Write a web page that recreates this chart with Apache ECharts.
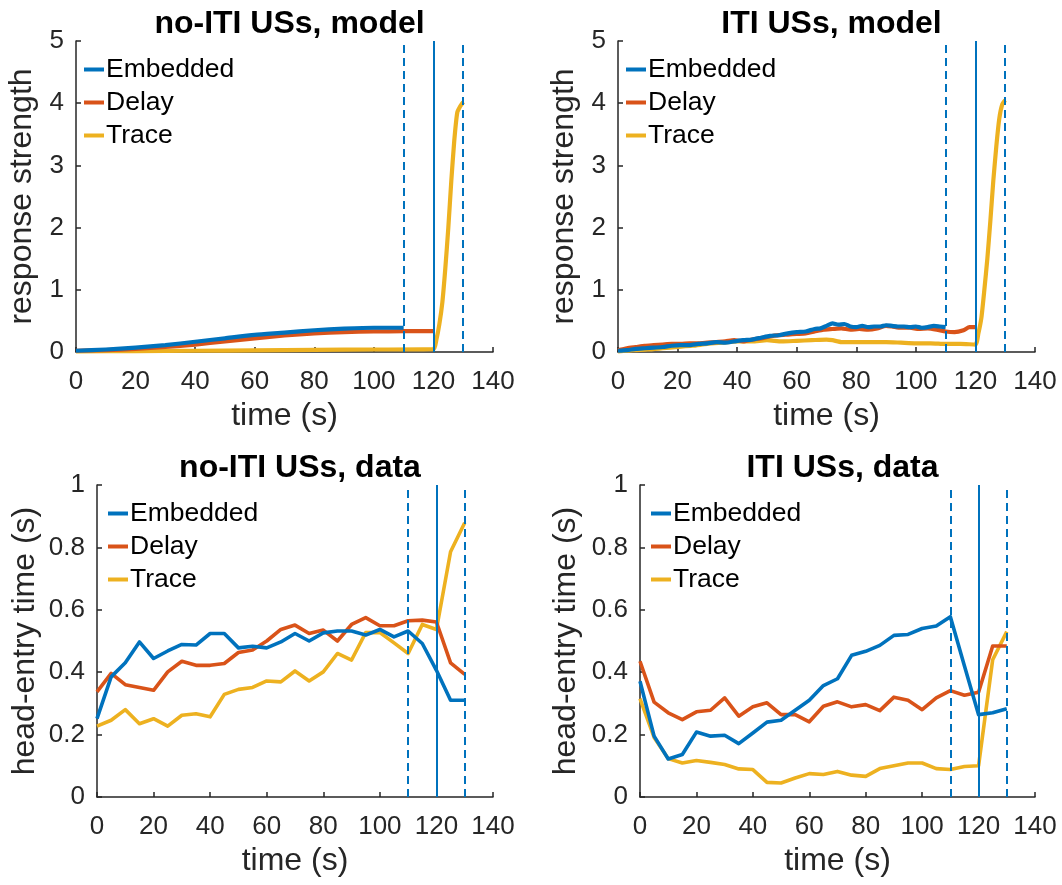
<!DOCTYPE html>
<html>
<head>
<meta charset="utf-8">
<script src="https://cdn.jsdelivr.net/npm/echarts@6/dist/echarts.min.js"></script>
<style>
  html, body { margin: 0; padding: 0; background: #fff; }
  #chart { width: 1062px; height: 885px; }
</style>
</head>
<body>
<div id="chart"></div>
<script>
// ---- Model: no-ITI USs (response strength vs time) ----
const mNoItiEmbT = [0, 10, 20, 30, 40, 50, 60, 70, 80, 90, 100, 110];
const mNoItiEmbV = [0.02, 0.04, 0.07, 0.11, 0.165, 0.22, 0.275, 0.31, 0.35, 0.375, 0.39, 0.39];
const mNoItiDelT = [0, 10, 20, 30, 40, 50, 60, 70, 80, 90, 100, 110, 120];
const mNoItiDelV = [0.02, 0.03, 0.05, 0.08, 0.12, 0.17, 0.22, 0.265, 0.3, 0.32, 0.33, 0.335, 0.335];
const mNoItiTrT = [0, 20, 40, 60, 80, 100, 120, 121, 122, 123, 124, 125, 126, 127, 128, 129, 130];
const mNoItiTrV = [0.01, 0.015, 0.02, 0.025, 0.035, 0.04, 0.045, 0.2, 0.45, 0.8, 1.35, 2.0, 2.75, 3.4, 3.85, 3.95, 4.02];

// ---- Model: ITI USs ----
const mItiEmbT = [0, 3, 6, 9, 12, 15, 18, 21, 24, 27, 30, 33, 36, 39, 42, 45, 48, 51, 54, 57, 60, 63, 66, 68, 70, 72, 74, 76, 78, 80, 82, 84, 86, 88, 90, 92, 94, 96, 98, 100, 102, 104, 106, 108, 110];
const mItiEmbV = [0.02, 0.03, 0.05, 0.06, 0.07, 0.08, 0.1, 0.11, 0.11, 0.13, 0.14, 0.16, 0.15, 0.17, 0.19, 0.2, 0.23, 0.26, 0.27, 0.3, 0.32, 0.33, 0.37, 0.38, 0.42, 0.46, 0.44, 0.45, 0.41, 0.4, 0.42, 0.4, 0.41, 0.41, 0.43, 0.42, 0.41, 0.41, 0.4, 0.41, 0.39, 0.4, 0.42, 0.41, 0.4];
const mItiDelT = [0, 3, 6, 9, 12, 15, 18, 21, 24, 27, 30, 33, 36, 39, 42, 45, 48, 51, 54, 57, 60, 63, 66, 69, 72, 75, 78, 81, 84, 87, 90, 92, 95, 98, 101, 104, 107, 110, 113, 116, 118, 120];
const mItiDelV = [0.03, 0.06, 0.08, 0.1, 0.11, 0.12, 0.13, 0.13, 0.14, 0.14, 0.15, 0.16, 0.17, 0.19, 0.17, 0.2, 0.22, 0.25, 0.27, 0.28, 0.29, 0.3, 0.33, 0.36, 0.37, 0.38, 0.36, 0.37, 0.36, 0.38, 0.42, 0.41, 0.39, 0.39, 0.37, 0.38, 0.36, 0.33, 0.32, 0.35, 0.4, 0.4];
const mItiTrT = [0, 5, 10, 15, 20, 25, 30, 35, 40, 45, 50, 55, 60, 65, 70, 72, 75, 80, 85, 90, 95, 100, 105, 110, 115, 120, 121, 122, 123, 124, 125, 126, 127, 128, 129, 130];
const mItiTrV = [0.01, 0.03, 0.04, 0.06, 0.08, 0.1, 0.13, 0.15, 0.17, 0.17, 0.19, 0.17, 0.18, 0.19, 0.2, 0.19, 0.16, 0.16, 0.16, 0.16, 0.15, 0.14, 0.14, 0.13, 0.13, 0.12, 0.3, 0.55, 1.0, 1.5, 2.1, 2.75, 3.3, 3.75, 3.98, 4.05];

// ---- Data: head-entry time, sampled every 5 s ----
const dataTimes = [0, 5, 10, 15, 20, 25, 30, 35, 40, 45, 50, 55, 60, 65, 70, 75, 80, 85, 90, 95, 100, 105, 110, 115, 120, 125, 130];
const dNoItiEmb = [0.251, 0.385, 0.43, 0.497, 0.444, 0.468, 0.489, 0.487, 0.524, 0.524, 0.478, 0.483, 0.478, 0.497, 0.524, 0.5, 0.526, 0.532, 0.532, 0.519, 0.537, 0.513, 0.532, 0.492, 0.406, 0.31, 0.31];
const dNoItiDel = [0.337, 0.396, 0.36, 0.351, 0.342, 0.401, 0.435, 0.422, 0.422, 0.428, 0.463, 0.471, 0.5, 0.537, 0.551, 0.524, 0.535, 0.5, 0.553, 0.575, 0.549, 0.549, 0.565, 0.567, 0.561, 0.43, 0.393];
const dNoItiTr = [0.227, 0.246, 0.28, 0.235, 0.251, 0.227, 0.262, 0.267, 0.257, 0.329, 0.345, 0.351, 0.372, 0.369, 0.404, 0.372, 0.401, 0.46, 0.439, 0.527, 0.527, 0.494, 0.46, 0.553, 0.537, 0.786, 0.879];
const dItiEmb = [0.371, 0.195, 0.122, 0.136, 0.208, 0.195, 0.198, 0.171, 0.205, 0.24, 0.246, 0.278, 0.31, 0.357, 0.379, 0.454, 0.467, 0.486, 0.518, 0.521, 0.54, 0.548, 0.578, 0.42, 0.264, 0.27, 0.283];
const dItiDel = [0.435, 0.304, 0.27, 0.248, 0.273, 0.278, 0.318, 0.259, 0.289, 0.302, 0.264, 0.264, 0.241, 0.291, 0.305, 0.289, 0.296, 0.277, 0.32, 0.31, 0.28, 0.318, 0.341, 0.326, 0.336, 0.484, 0.484];
const dItiTr = [0.315, 0.191, 0.123, 0.109, 0.117, 0.111, 0.104, 0.09, 0.088, 0.047, 0.045, 0.061, 0.075, 0.072, 0.082, 0.07, 0.066, 0.091, 0.1, 0.109, 0.109, 0.091, 0.088, 0.098, 0.1, 0.44, 0.53];

// CS / US event markers (s)
const dashedMarks = [110, 130];
const solidMarks = [120];

const seriesNames = ['Embedded', 'Delay', 'Trace'];
const colors = ['#0072BD', '#D95319', '#EDB120'];
const panelTitles = ['no-ITI USs, model', 'ITI USs, model', 'no-ITI USs, data', 'ITI USs, data'];
const yNames = ['response strength', 'response strength', 'head-entry time (s)', 'head-entry time (s)'];
const xTicks = [0, 20, 40, 60, 80, 100, 120, 140];

const pairs = (t, v) => t.map((x, i) => [x, v[i]]);

const panels = [
  { lines: [pairs(mNoItiEmbT, mNoItiEmbV), pairs(mNoItiDelT, mNoItiDelV), pairs(mNoItiTrT, mNoItiTrV)], yMax: 5, yInt: 1, lw: 4.2, fmt: v => String(v) },
  { lines: [pairs(mItiEmbT, mItiEmbV), pairs(mItiDelT, mItiDelV), pairs(mItiTrT, mItiTrV)], yMax: 5, yInt: 1, lw: 4.2, fmt: v => String(v) },
  { lines: [pairs(dataTimes, dNoItiEmb), pairs(dataTimes, dNoItiDel), pairs(dataTimes, dNoItiTr)], yMax: 1, yInt: 0.2, lw: 3.6, fmt: v => (v === 0 || v === 1) ? String(v) : v.toFixed(1) },
  { lines: [pairs(dataTimes, dItiEmb), pairs(dataTimes, dItiDel), pairs(dataTimes, dItiTr)], yMax: 1, yInt: 0.2, lw: 3.6, fmt: v => (v === 0 || v === 1) ? String(v) : v.toFixed(1) }
];

const grids = [
  { left: 76, top: 41, width: 417, height: 311 },
  { left: 618, top: 41, width: 417, height: 311 },
  { left: 97, top: 485, width: 396, height: 312 },
  { left: 640, top: 485, width: 395, height: 312 }
];
const yNameGaps = [38, 38, 56, 58];

const FONT = '"Liberation Sans", Arial, Helvetica, sans-serif';
const AX = '#262626';

const option = {
  animation: false,
  backgroundColor: '#fff',
  title: grids.map((g, i) => ({
    text: panelTitles[i],
    left: g.left + g.width / 2,
    top: g.top - 38,
    textAlign: 'center',
    textStyle: { fontFamily: FONT, fontWeight: 'bold', fontSize: 32, color: '#000' }
  })),
  legend: grids.map((g, i) => ({
    data: seriesNames,
    orient: 'vertical',
    left: g.left + (i < 2 ? 8 : 11),
    top: g.top + 15,
    icon: 'rect',
    itemWidth: 20,
    itemHeight: 4,
    itemGap: 6,
    padding: 0,
    selectedMode: false,
    textStyle: { fontFamily: FONT, fontSize: 26.5, color: '#000', padding: [0, 0, 0, -3] }
  })),
  grid: grids.map(g => ({ left: g.left, top: g.top, width: g.width, height: g.height, containLabel: false })),
  xAxis: grids.map((g, i) => ({
    type: 'value', gridIndex: i, min: 0, max: 140, interval: 20,
    name: 'time (s)', nameLocation: 'middle', nameGap: 48,
    nameTextStyle: { fontFamily: FONT, fontSize: 32, color: AX },
    axisLine: { show: true, lineStyle: { color: AX, width: 1.5 } },
    axisTick: { show: true, inside: true, length: 5, lineStyle: { color: AX, width: 1.5 } },
    axisLabel: { fontFamily: FONT, fontSize: 26, color: AX, margin: 17, formatter: v => xTicks.includes(v) ? String(v) : '' },
    splitLine: { show: false }
  })),
  yAxis: grids.map((g, i) => ({
    type: 'value', gridIndex: i, min: 0, max: panels[i].yMax, interval: panels[i].yInt,
    name: yNames[i], nameLocation: 'middle', nameGap: yNameGaps[i], nameRotate: 90,
    nameTextStyle: { fontFamily: FONT, fontSize: 32, color: AX },
    axisLine: { show: true, lineStyle: { color: AX, width: 1.5 } },
    axisTick: { show: true, inside: true, length: 5, lineStyle: { color: AX, width: 1.5 } },
    axisLabel: { fontFamily: FONT, fontSize: 26, color: AX, margin: 12, formatter: panels[i].fmt },
    splitLine: { show: false }
  })),
  series: []
};

panels.forEach((p, gi) => {
  p.lines.forEach((pts, si) => {
    const s = {
      name: seriesNames[si],
      type: 'line',
      xAxisIndex: gi,
      yAxisIndex: gi,
      data: pts,
      showSymbol: false,
      smooth: gi < 2 ? 0.2 : false,
      z: 5 - si,
      lineStyle: { color: colors[si], width: p.lw, join: 'round' },
      itemStyle: { color: colors[si] }
    };
    if (si === 0) {
      s.markLine = {
        silent: true,
        symbol: ['none', 'none'],
        label: { show: false },
        animation: false,
        z: 10,
        data: [
          ...dashedMarks.map(x => ({ xAxis: x, lineStyle: { color: '#0072BD', width: 2, type: [8, 5] } })),
          ...solidMarks.map(x => ({ xAxis: x, lineStyle: { color: '#0072BD', width: 2, type: 'solid' } }))
        ]
      };
    }
    option.series.push(s);
  });
});

const chart = echarts.init(document.getElementById('chart'), null, { renderer: 'canvas' });
chart.setOption(option);
</script>
</body>
</html>
